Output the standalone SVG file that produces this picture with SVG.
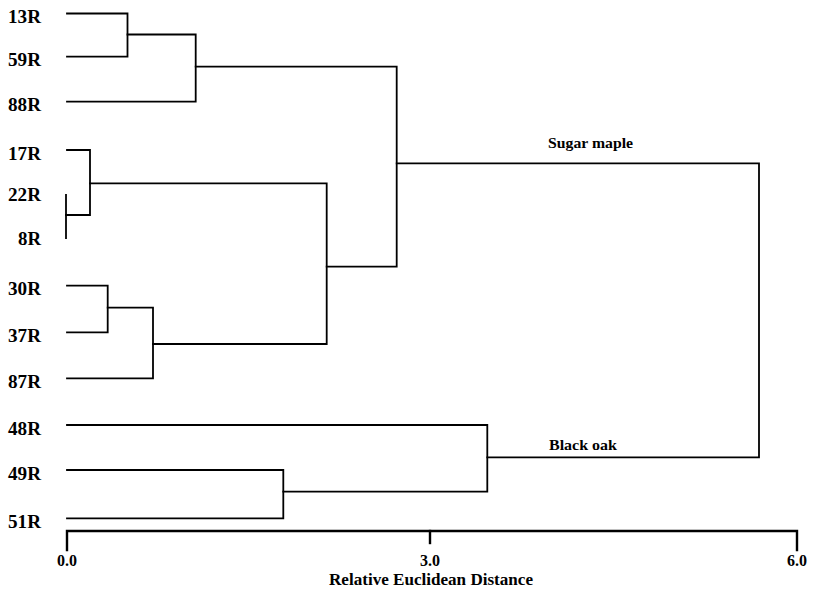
<svg xmlns="http://www.w3.org/2000/svg" width="813" height="589" viewBox="0 0 813 589">
<style>
.bg{fill:#fff}
.lbl{font-family:"Liberation Serif","Times New Roman",serif;font-weight:bold;font-size:18px;fill:#000;text-anchor:end}
.grp{font-family:"Liberation Serif","Times New Roman",serif;font-weight:bold;font-size:15px;fill:#000}
.ax{font-family:"Liberation Serif","Times New Roman",serif;font-weight:bold;font-size:16px;fill:#000;text-anchor:middle}
.ln{fill:none;stroke:#000;stroke-width:1.8;stroke-linejoin:miter;stroke-linecap:square}
.axl{fill:none;stroke:#000;stroke-width:2.4;stroke-linecap:square}
</style>
<rect class="bg" x="0" y="0" width="813" height="589"/>
<g id="leaves">
<g id="n13R"><text class="lbl" x="41" y="23" textLength="33" lengthAdjust="spacingAndGlyphs">13R</text></g>
<g id="n59R"><text class="lbl" x="41" y="66" textLength="33" lengthAdjust="spacingAndGlyphs">59R</text></g>
<g id="n88R"><text class="lbl" x="41" y="111" textLength="33" lengthAdjust="spacingAndGlyphs">88R</text></g>
<g id="n17R"><text class="lbl" x="41" y="159.5" textLength="33" lengthAdjust="spacingAndGlyphs">17R</text></g>
<g id="n22R"><text class="lbl" x="41" y="200.5" textLength="33" lengthAdjust="spacingAndGlyphs">22R</text></g>
<g id="n8R"><text class="lbl" x="41" y="245" textLength="23" lengthAdjust="spacingAndGlyphs">8R</text></g>
<g id="n30R"><text class="lbl" x="41" y="295" textLength="33" lengthAdjust="spacingAndGlyphs">30R</text></g>
<g id="n37R"><text class="lbl" x="41" y="342" textLength="33" lengthAdjust="spacingAndGlyphs">37R</text></g>
<g id="n87R"><text class="lbl" x="41" y="388" textLength="33" lengthAdjust="spacingAndGlyphs">87R</text></g>
<g id="n48R"><text class="lbl" x="41" y="434.5" textLength="33" lengthAdjust="spacingAndGlyphs">48R</text></g>
<g id="n49R"><text class="lbl" x="41" y="479.5" textLength="33" lengthAdjust="spacingAndGlyphs">49R</text></g>
<g id="n51R"><text class="lbl" x="41" y="528" textLength="33" lengthAdjust="spacingAndGlyphs">51R</text></g>
</g>
<g id="clusters">
<g id="sugar-maple"><text class="grp" x="548" y="148" textLength="85" lengthAdjust="spacingAndGlyphs">Sugar maple</text></g>
<g id="black-oak"><text class="grp" x="549" y="450" textLength="68" lengthAdjust="spacingAndGlyphs">Black oak</text></g>
</g>
<g id="connectors">
<path class="ln" d="M67 13.5 H127.5 V56.7 H67"/>
<path class="ln" d="M127.5 34.5 H195.7 V101.7 H67"/>
<path class="ln" d="M67 150 H90 V215 H66"/>
<path class="ln" d="M66 195 V238"/>
<path class="ln" d="M67 285.7 H107.7 V332.3 H67"/>
<path class="ln" d="M107.7 307.7 H153 V378.3 H67"/>
<path class="ln" d="M90 183.3 H326.7 V344 H153"/>
<path class="ln" d="M195.7 66.7 H396.7 V266.7 H326.7"/>
<path class="ln" d="M67 470 H283.3 V518.3 H67"/>
<path class="ln" d="M67 425 H487.3 V491.7 H283.3"/>
<path class="ln" d="M396.7 163.3 H759 V457.3 H487.3"/>
</g>
<g id="axis">
<path class="axl" d="M67 550 V531 H797 V550"/>
<path class="axl" d="M430 531 V543"/>
<text class="ax" x="67" y="566">0.0</text>
<text class="ax" x="430" y="566">3.0</text>
<text class="ax" x="797" y="566">6.0</text>
<text class="ax" x="431" y="585" textLength="204" lengthAdjust="spacingAndGlyphs">Relative Euclidean Distance</text>
</g>
</svg>
